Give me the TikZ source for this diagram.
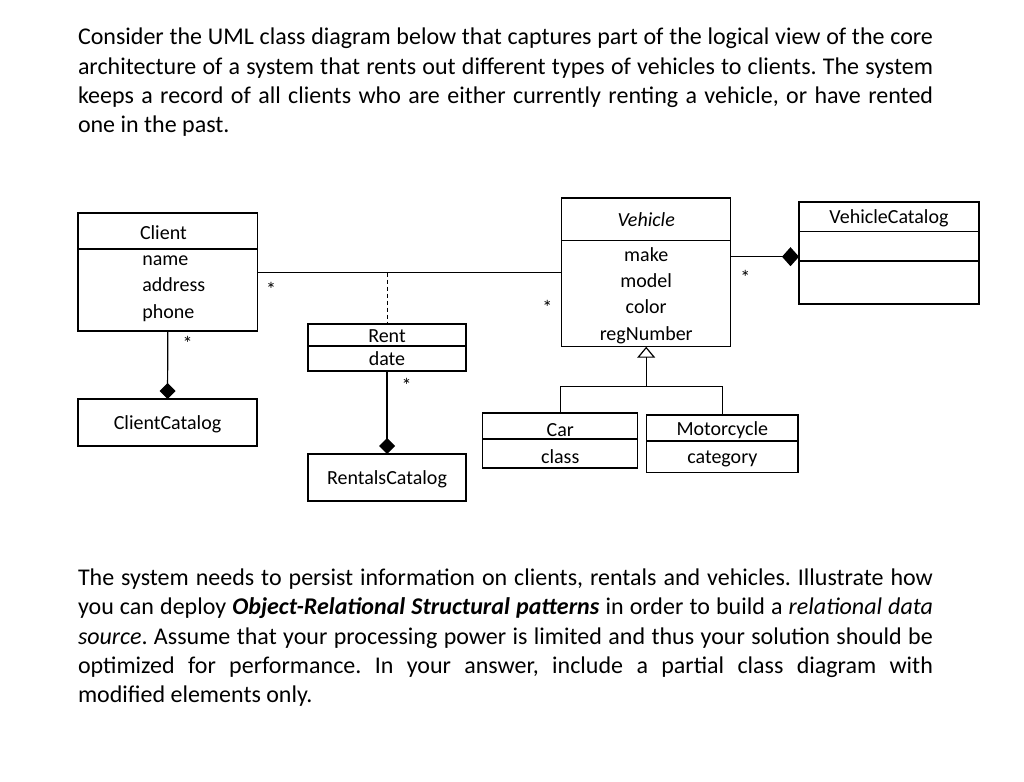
\documentclass[tikz,border=0pt]{standalone}
\usepackage{fontspec}
\setmainfont{Carlito}
\usetikzlibrary{positioning,arrows.meta}
\tolerance=9999
\exhyphenpenalty=10000
\hyphenpenalty=10000
\frenchspacing

\begin{document}
\begin{tikzpicture}[x=1pt,y=-1pt,
    every node/.style={font=\fontsize{20}{26}\selectfont, inner sep=0pt, outer sep=0pt},
    classbox/.style={draw, line width=1.2pt, text height=17pt, text depth=3pt},
    para/.style={anchor=base west, text width=855pt, align=justify,
        font=\fontsize{24}{29.4}\selectfont},
    mult/.style={anchor=base},
    assoc/.style={line width=1.2pt},
    comp/.style={line width=1.2pt, -{Diamond[length=16pt,width=16pt]}},
    inherit/.style={line width=1.2pt, -{Triangle[open,length=11pt,width=18pt]}}]
    \useasboundingbox (0,0) rectangle (1024,781);
    \fill[white] (0,0) rectangle (1024,781);

    % question text
    \node[para] (intro) at (78,44.7) {Consider the UML class diagram below that captures part of the logical view of the core\linebreak
      architecture of a system that rents out different types of vehicles to clients. The system\linebreak
      keeps a record of all clients who are either currently renting a vehicle, or have rented\linebreak
      one in the past.};
    \node[para] (task) at (78,585.3) {The system needs to persist information on clients, rentals and vehicles. Illustrate how\linebreak
      you can deploy \textbf{\textit{Object-Relational Structural patterns}} in order to build a \textit{relational data}\linebreak
      \textit{source}. Assume that your processing power is limited and thus your solution should be\linebreak
      optimized for performance. In your answer, include a partial class diagram with\linebreak
      modified elements only.};

    % Client
    \node[classbox, minimum width=179.7pt, minimum height=36pt] (client) at (167.85,231) {};
    \node[classbox, minimum width=179.7pt, minimum height=82pt, below=0pt of client] (clientattr) {};
    \node[anchor=base west] (clientname) at (140,239) {Client};
    \foreach \attr [count=\i] in {name,address,phone}
        \node[anchor=base west] (clientfield\i) at (142.3,{265.3+26.5*(\i-1)}) {\attr};
    \node[classbox, minimum width=179pt, minimum height=47pt] (clientcat) at (167.5,422.5) {ClientCatalog};

    % Rent
    \node[classbox, minimum width=158pt, minimum height=22pt] (rent) at (387,335) {Rent};
    \node[classbox, minimum width=158pt, minimum height=25pt, below=0pt of rent] (rentattr) {date};
    \node[classbox, minimum width=158pt, minimum height=47pt] (rentcat) at (387,477.5) {RentalsCatalog};

    % Vehicle
    \node[classbox, minimum width=169pt, minimum height=42.7pt] (vehicle) at (646.2,219.35) {\textit{Vehicle}};
    \node[classbox, minimum width=169pt, minimum height=106pt, below=0pt of vehicle] (vehicleattr) {};
    \foreach \attr [count=\i] in {make,model,color,regNumber}
        \node[anchor=base] (vehiclefield\i) at (646.2,{261.7+26.1*(\i-1)}) {\attr};

    \node[classbox, minimum width=180pt, minimum height=29.7pt] (vcat) at (889,216.85) {VehicleCatalog};
    \node[classbox, minimum width=180pt, minimum height=29.3pt, below=0pt of vcat] (vcatattr) {};
    \node[classbox, minimum width=180pt, minimum height=43pt, below=0pt of vcatattr] (vcatops) {};

    % subclasses
    \node[classbox, text height=20pt, text depth=0pt, minimum width=155pt, minimum height=26pt] (car) at (560.2,426) {Car};
    \node[classbox, text height=20pt, text depth=0pt, minimum width=155pt, minimum height=29pt, below=0pt of car] (carattr) {class};
    \node[classbox, minimum width=151.3pt, minimum height=26pt] (moto) at (722.35,428) {Motorcycle};
    \node[classbox, minimum width=151.3pt, minimum height=31.7pt, below=0pt of moto] (motoattr) {category};

    % associations
    \coordinate (rentlink) at (387,272.5);
    \draw[assoc] (clientattr.east |- rentlink) -- (vehicleattr.west |- rentlink);
    \draw[line width=1pt, dash pattern=on 4pt off 3pt] (rentlink) -- (rent.north);
    \draw[comp] (clientattr.south) -- (clientcat.north);
    \draw[comp] (rentattr.south) -- (rentcat.north);
    \coordinate (vcatlink) at (765,256.7);
    \draw[assoc, -{Diamond[length=17pt,width=19pt]}] (vehicleattr.east |- vcatlink) -- (vcatattr.west |- vcatlink);

    % generalization
    \coordinate (genfork) at (646.2,386.7);
    \draw[assoc] (car.north) |- (genfork);
    \draw[assoc] (moto.north) |- (genfork);
    \draw[inherit] (genfork) -- (vehicleattr.south);

    % multiplicities
    \node[mult] (m1) at (271,296.5) {*};
    \node[mult] (m2) at (187.7,350.7) {*};
    \node[mult] (m3) at (406.7,392.3) {*};
    \node[mult] (m4) at (547.3,314) {*};
    \node[mult] (m5) at (745.3,284) {*};

\end{tikzpicture}
\end{document}
